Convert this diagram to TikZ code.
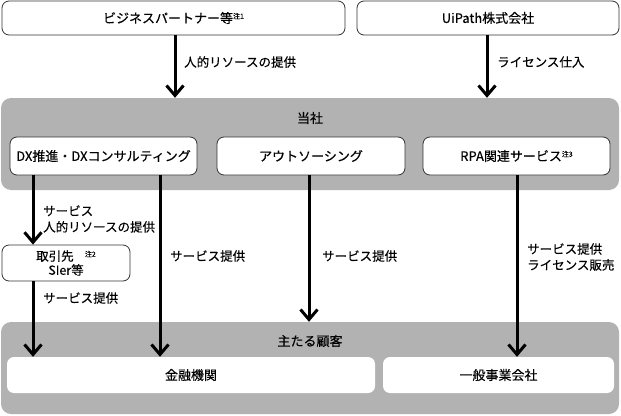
\documentclass[tikz,border=0pt]{standalone}
\usepackage{fontspec}
\setmainfont{Noto Sans CJK JP}[FakeBold=0.35]
\usetikzlibrary{arrows.meta}
\newcommand{\chuki}[1]{\raisebox{0.6ex}{\fontsize{7pt}{7pt}\selectfont 注#1}}
\begin{document}
\begin{tikzpicture}[x=1pt,y=-1pt,
  wbox/.style={draw=black!80, line width=0.8pt, fill=white, rounded corners=7pt, inner sep=0pt, font=\fontsize{13pt}{15pt}\selectfont, align=center},
  gbox/.style={fill=black!30, rounded corners=10pt, inner sep=0pt},
  pbox/.style={fill=white, rounded corners=7pt, inner sep=0pt, font=\fontsize{13pt}{15pt}\selectfont},
  arr/.style={line width=3pt, -{Straight Barb[length=10pt,width=17pt,line width=3pt]}},
  lbl/.style={anchor=west, inner sep=0pt, align=left, font=\fontsize{12.5pt}{16pt}\selectfont},
  ttl/.style={inner sep=0pt, font=\fontsize{13pt}{15pt}\selectfont}]
\useasboundingbox (0,0) rectangle (621,415);

% gray group boxes
\node[gbox, minimum width=618pt, minimum height=92pt] (tousha) at (310,144) {};
\node[ttl] (toushaT) at (310,118) {当社};
\node[gbox, minimum width=618pt, minimum height=92pt] (kokyaku) at (310,368) {};
\node[ttl] (kokyakuT) at (310,341) {主たる顧客};

% top boxes
\node[wbox, minimum width=343pt, minimum height=34pt] (bp) at (173.5,18) {ビジネスパートナー等\chuki{1}};
\node[wbox, minimum width=262pt, minimum height=34pt] (ui) at (488,18) {UiPath株式会社};

% service boxes
\node[wbox, minimum width=187pt, minimum height=38pt] (dx) at (103.5,156) {DX推進・DXコンサルティング};
\node[wbox, minimum width=188pt, minimum height=38pt] (out) at (311,156) {アウトソーシング};
\node[wbox, minimum width=187pt, minimum height=38pt] (rpa) at (516.5,156) {RPA関連サービス\chuki{3}};

% partner box
\node[wbox, minimum width=128pt, minimum height=36pt, font=\fontsize{12.5pt}{14pt}\selectfont] (tori) at (66,263) {取引先\hspace{0.9em}\chuki{2}\\SIer等};

% customer boxes
\node[pbox, minimum width=368pt, minimum height=36pt] (kin) at (191,375) {金融機関};
\node[pbox, minimum width=231pt, minimum height=36pt] (ippan) at (498.5,375) {一般事業会社};

% x positions of connectors
\coordinate (cA) at (175,0);
\coordinate (cB) at (487,0);
\coordinate (c1) at (33,0);
\coordinate (c2) at (160,0);
\coordinate (c3) at (309,0);
\coordinate (c4) at (517,0);

\draw[arr] (cA |- bp.south) -- (cA |- tousha.north);
\draw[arr] (cB |- ui.south) -- (cB |- tousha.north);
\draw[arr] (c1 |- dx.south) -- (c1 |- tori.north);
\draw[arr] (c1 |- tori.south) -- (c1 |- kin.north);
\draw[arr] (c2 |- dx.south) -- (c2 |- kin.north);
\draw[arr] (c3 |- out.south) -- (c3 |- kokyaku.north);
\draw[arr] (c4 |- rpa.south) -- (c4 |- ippan.north);

% labels
\node[lbl] (l1) at (184,62) {人的リソースの提供};
\node[lbl] (l2) at (497,62) {ライセンス仕入};
\node[lbl] (l3) at (43,219) {サービス\\人的リソースの提供};
\node[lbl] (l4) at (170,256) {サービス提供};
\node[lbl] (l5) at (322,256) {サービス提供};
\node[lbl] (l6) at (527,257) {サービス提供\\ライセンス販売};
\node[lbl] (l7) at (43,298) {サービス提供};
\end{tikzpicture}
\end{document}
